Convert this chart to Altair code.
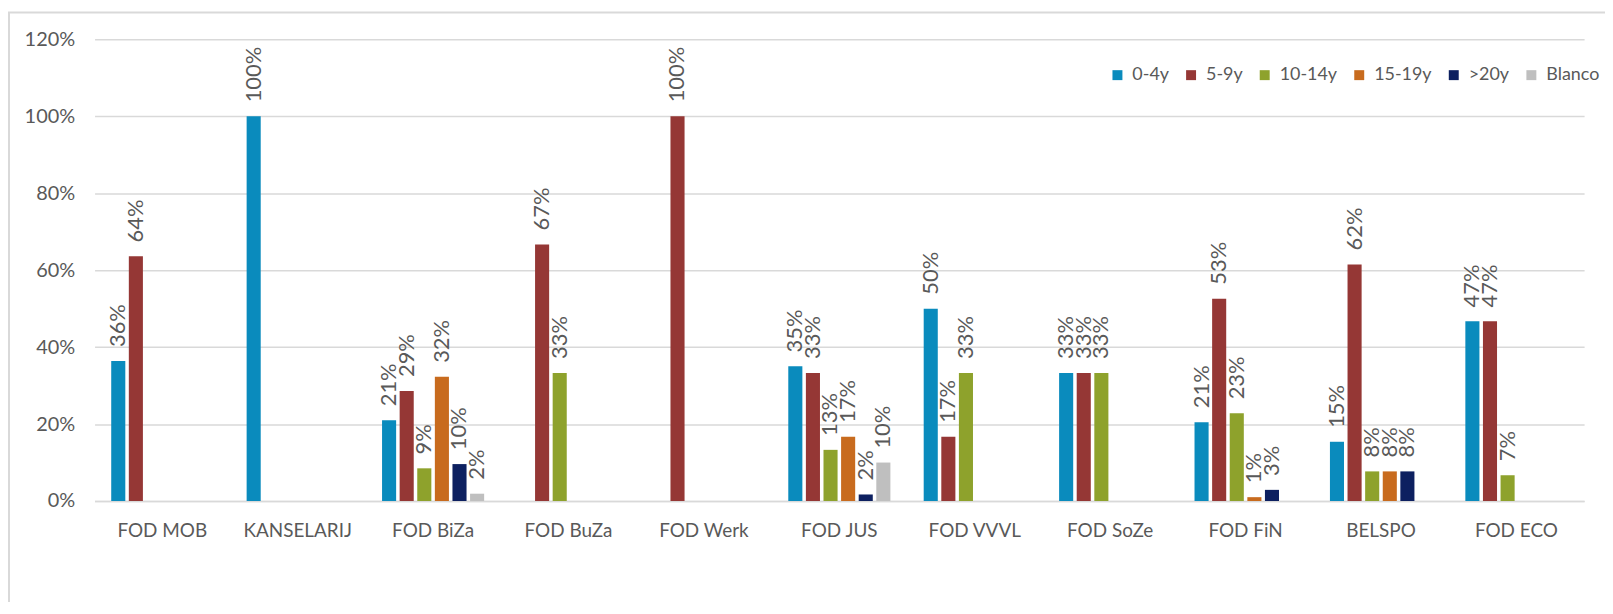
import altair as alt
import pandas as pd

categories = ["FOD MOB", "KANSELARIJ", "FOD BiZa", "FOD BuZa", "FOD Werk", "FOD JUS",
              "FOD VVVL", "FOD SoZe", "FOD FiN", "BELSPO", "FOD ECO"]
series = ["0-4y", "5-9y", "10-14y", "15-19y", ">20y", "Blanco"]
colors = ["#0a8bbd", "#953735", "#8ea22c", "#c86b1e", "#0d2060", "#bfbfbf"]

# values in percent, None = no bar
v_0_4 = [36.4, 100.0, 21.0, None, None, 35.0, 50.0, 33.3, 20.5, 15.4, 46.7]
v_5_9 = [63.6, None, 28.6, 66.7, 100.0, 33.3, 16.7, 33.3, 52.6, 61.5, 46.7]
v_10_14 = [None, None, 8.5, 33.3, None, 13.3, 33.3, 33.3, 22.8, 7.7, 6.7]
v_15_19 = [None, None, 32.3, None, None, 16.7, None, None, 1.0, 7.7, None]
v_20 = [None, None, 9.6, None, None, 1.7, None, None, 2.9, 7.7, None]
v_blanco = [None, None, 1.9, None, None, 10.0, None, None, None, None, None]

all_vals = [v_0_4, v_5_9, v_10_14, v_15_19, v_20, v_blanco]
rows = []
for s, vals in zip(series, all_vals):
    for c, v in zip(categories, vals):
        if v is not None:
            rows.append({"cat": c, "series": s, "val": v / 100.0})
df = pd.DataFrame(rows)

FONT = "Lato"
TXT = "#595959"
GRID = "#d9d9d9"

base = alt.Chart(df).encode(
    x=alt.X("cat:N", sort=categories,
            scale=alt.Scale(paddingInner=0.22, paddingOuter=0.11),
            axis=alt.Axis(title=None, labelAngle=0, ticks=False, domainColor=GRID,
                          domainWidth=1.5, labelFont=FONT, labelFontSize=19,
                          labelColor=TXT, labelPadding=30, labelBaseline="middle")),
    xOffset=alt.XOffset("series:N", sort=series,
                        scale=alt.Scale(domain=series, paddingInner=0.2, paddingOuter=0.1)),
    y=alt.Y("val:Q", scale=alt.Scale(domain=[0, 1.2], nice=False),
            axis=alt.Axis(title=None, format=".0%", values=[0, 0.2, 0.4, 0.6, 0.8, 1.0, 1.2],
                          domain=False, ticks=False, gridColor=GRID, gridWidth=1.5,
                          labelFont=FONT, labelFontSize=20, labelColor=TXT,
                          labelPadding=20)),
)

bars = base.mark_bar().encode(
    color=alt.Color("series:N", sort=series,
                    scale=alt.Scale(domain=series, range=colors),
                    legend=alt.Legend(title=None, orient="none", direction="horizontal",
                                      legendX=1019, legendY=27, symbolType="square",
                                      symbolSize=100, symbolStrokeWidth=0,
                                      labelFont=FONT, labelFontSize=18, labelColor=TXT,
                                      labelOffset=6, columnPadding=13))
)

labels = base.mark_text(angle=270, align="left", baseline="middle", dx=14,
                        font=FONT, fontSize=22, color=TXT).encode(
    text=alt.Text("val:Q", format=".0%")
)

frame = alt.Chart(pd.DataFrame({"a": [0]})).mark_rect(
    fillOpacity=0, stroke=GRID, strokeWidth=2, clip=False
).encode(
    x=alt.value(-86), x2=alt.value(1540), y=alt.value(-27), y2=alt.value(600)
)

chart = alt.layer(frame, bars, labels).properties(
    width=1497, height=464,
    padding={"left": 87, "top": 30, "right": 21, "bottom": 100},
    autosize=alt.AutoSizeParams(type="none"),
    background="white",
).configure_view(stroke=None)

chart.save("out.html", embed_options={"renderer": "svg", "actions": False})
